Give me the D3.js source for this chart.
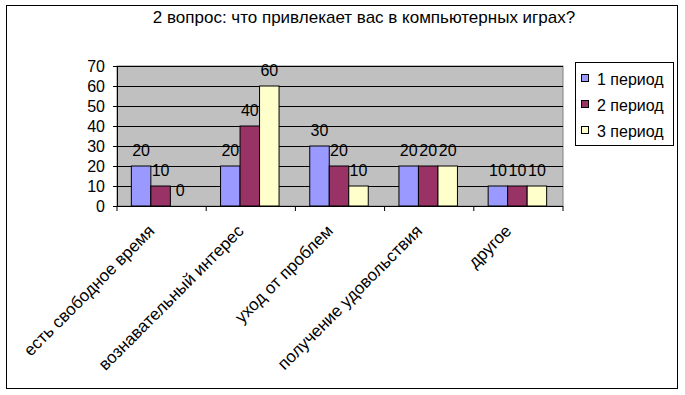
<!DOCTYPE html>
<html>
<head>
<meta charset="utf-8">
<style>
    body { margin: 0; background: #fff; }
    svg { font-family: 'Liberation Sans', Arial, sans-serif; }
</style>
</head>
<body>
<svg width="685" height="395"></svg>
<script src="https://d3js.org/d3.v7.min.js"></script>
<script>
    // chart data
    let title = "2 вопрос: что привлекает вас в компьютерных играх?"
    let categories = ["есть свободное время", "вознавательный интерес", "уход от проблем", "получение удовольствия", "другое"]
    let seriesNames = ["1 период", "2 период", "3 период"]
    let period1 = [20, 20, 30, 20, 10]
    let period2 = [10, 40, 20, 20, 10]
    let period3 = [0, 60, 10, 20, 10]
    let yTicks = [0, 10, 20, 30, 40, 50, 60, 70]
    let colors = ["#9999FF", "#993366", "#FFFFCC"]

    let series = [period1, period2, period3]

    let svg = d3.select("svg")

    // outer frame
    svg.append("rect")
        .attr("x", 6.5).attr("y", 5.5)
        .attr("width", 671).attr("height", 383)
        .style("fill", "white")
        .style("stroke", "black")
        .style("stroke-width", 1)

    svg.append("text")
        .attr("x", 364).attr("y", 23)
        .attr("text-anchor", "middle")
        .style("font-size", "17px")
        .text(title)

    let plotLeft = 117, plotRight = 563, plotTop = 66, plotBottom = 206

    let x = d3.scaleBand()
        .domain(categories)
        .range([plotLeft, plotRight])

    let y = d3.scaleLinear()
        .domain([0, 70])
        .range([plotBottom, plotTop])

    let barW = 19.5
    let barOffset = (x.bandwidth() - barW * 3) / 2 - 1

    // plot background
    svg.append("rect")
        .attr("x", plotLeft).attr("y", plotTop)
        .attr("width", plotRight - plotLeft).attr("height", plotBottom - plotTop)
        .style("fill", "#C0C0C0")
        .style("stroke", "#808080")
        .style("stroke-width", 1)

    // gridlines
    svg.append("g")
        .selectAll("line")
        .data(yTicks.filter(d => d > 0))
        .join("line")
        .attr("x1", plotLeft).attr("x2", plotRight)
        .attr("y1", d => Math.round(y(d)) + 0.5)
        .attr("y2", d => Math.round(y(d)) + 0.5)
        .style("stroke", "black")
        .style("stroke-width", 1)

    // bars
    let groups = svg.append("g")
        .selectAll("g")
        .data(series)
        .join("g")
        .style("fill", (d, i) => colors[i])

    groups.selectAll("rect")
        .data((d, i) => d.map((v, j) => ({v: v, s: i, c: categories[j]})))
        .join("rect")
        .attr("x", d => x(d.c) + barOffset + d.s * barW)
        .attr("y", d => y(d.v))
        .attr("width", barW)
        .attr("height", d => plotBottom - y(d.v))
        .style("stroke", "black")
        .style("stroke-width", 1)
        .style("display", d => d.v > 0 ? null : "none")

    // data labels
    groups.selectAll("text")
        .data((d, i) => d.map((v, j) => ({v: v, s: i, c: categories[j]})))
        .join("text")
        .attr("x", d => x(d.c) + barOffset + d.s * barW + barW / 2)
        .attr("y", d => y(d.v) - 10.5)
        .attr("text-anchor", "middle")
        .style("fill", "black")
        .style("font-size", "16px")
        .text(d => d.v)

    // y axis
    let yAxis = svg.append("g")
        .attr("transform", `translate(${plotLeft},0)`)
        .call(d3.axisLeft(y).tickValues(yTicks).tickSize(4).tickPadding(8))
    yAxis.select(".domain").style("stroke", "black")
    yAxis.selectAll("text")
        .style("font-size", "16px")
        .style("font-family", "'Liberation Sans', Arial, sans-serif")
        .style("fill", "black")

    // x axis
    let xAxis = svg.append("g")
        .attr("transform", `translate(0,${plotBottom})`)
    xAxis.append("line")
        .attr("x1", plotLeft).attr("x2", plotRight)
        .attr("y1", 0.5).attr("y2", 0.5)
        .style("stroke", "black")
    xAxis.selectAll(".tick")
        .data(d3.range(categories.length + 1))
        .join("line")
        .attr("x1", d => plotLeft + d * x.step())
        .attr("x2", d => plotLeft + d * x.step())
        .attr("y1", 0).attr("y2", 5)
        .style("stroke", "black")

    xAxis.selectAll("text")
        .data(categories)
        .join("text")
        .attr("transform", d => `translate(${x(d) + x.bandwidth() / 2 - 6},${26}) rotate(-45)`)
        .attr("text-anchor", "end")
        .style("font-size", "17px")
        .text(d => d)

    // legend
    let legend = svg.append("g")
    legend.append("rect")
        .attr("x", 575.5).attr("y", 62.5)
        .attr("width", 98).attr("height", 83)
        .style("fill", "white")
        .style("stroke", "black")

    let items = legend.selectAll("g")
        .data(seriesNames)
        .join("g")
        .attr("transform", (d, i) => `translate(581,${85 + i * 26})`)

    items.append("rect")
        .attr("x", 0.5).attr("y", -10.5)
        .attr("width", 7).attr("height", 7)
        .style("fill", (d, i) => colors[i])
        .style("stroke", "black")

    items.append("text")
        .attr("x", 16).attr("y", 0)
        .style("font-size", "16px")
        .text(d => d)
</script>
</body>
</html>
